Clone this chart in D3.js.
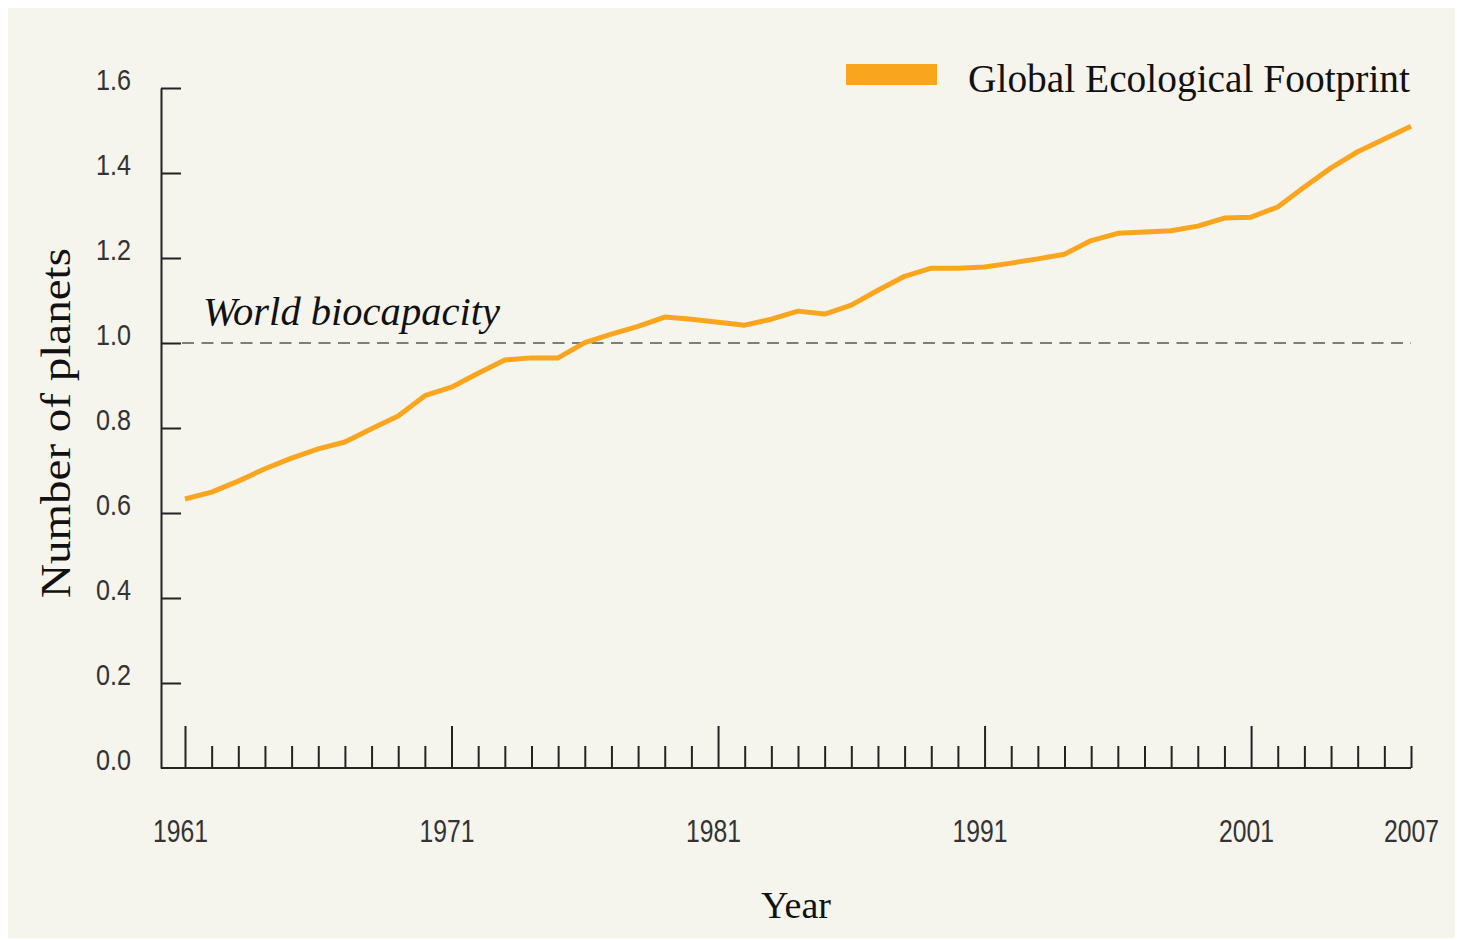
<!DOCTYPE html>
<html>
<head>
<meta charset="utf-8">
<script src="https://cdn.jsdelivr.net/npm/d3@7"></script>
<style>
  body { margin: 0; background: #ffffff; }
  .tick-label { font-family: "Liberation Sans Narrow", "Liberation Sans", Arial, sans-serif; fill: #333; }
  .serif { font-family: "Liberation Serif", "DejaVu Serif", serif; fill: #111; }
</style>
</head>
<body>
<svg></svg>
<script>
/* data: global ecological footprint, number of planets */
var years = [1961, 1962, 1963, 1964, 1965, 1966, 1967, 1968, 1969, 1970,
             1971, 1972, 1973, 1974, 1975, 1976, 1977, 1978, 1979, 1980,
             1981, 1982, 1983, 1984, 1985, 1986, 1987, 1988, 1989, 1990,
             1991, 1992, 1993, 1994, 1995, 1996, 1997, 1998, 1999, 2000,
             2001, 2002, 2003, 2004, 2005, 2006, 2007];
var footprint = [0.633, 0.649, 0.675, 0.704, 0.729, 0.751, 0.767, 0.798, 0.828, 0.876,
                 0.896, 0.929, 0.960, 0.965, 0.965, 1.001, 1.021, 1.039, 1.061, 1.056,
                 1.049, 1.042, 1.056, 1.075, 1.068, 1.089, 1.124, 1.157, 1.176, 1.176,
                 1.179, 1.188, 1.198, 1.209, 1.241, 1.258, 1.261, 1.264, 1.275, 1.294,
                 1.296, 1.320, 1.367, 1.412, 1.450, 1.480, 1.510];
var biocapacity = 1.0;
var yTicks = [0.0, 0.2, 0.4, 0.6, 0.8, 1.0, 1.2, 1.4, 1.6];
var majorYears = [1961, 1971, 1981, 1991, 2001];
var labelYears = [1961, 1971, 1981, 1991, 2001, 2007];
var seriesName = 'Global Ecological Footprint';
var refLabel = 'World biocapacity';
var xTitle = 'Year';
var yTitle = 'Number of planets';

/* svg setting */
var svgWidth = 1457;
var svgHeight = 940;
var axisLeftX = 161;
var orange = '#f9a51e';
var scale = {};

var svg = d3.select('svg')
    .attr('width', svgWidth)
    .attr('height', svgHeight);

svg.append('rect')
    .attr('x', 8).attr('y', 8)
    .attr('width', 1447).attr('height', 930)
    .attr('fill', '#f5f4ed');

setScale();
drawAxis();
drawReference();
drawLine();
drawLegend();

function setScale(){
  scale.x = d3.scaleLinear()
      .domain([1961, 2007])
      .range([185, 1411]);
  scale.y = d3.scaleLinear()
      .domain([0, 1.6])
      .range([768, 88]);
}

function drawAxis(){
  // y axis, ticks pointing inward
  var yAxis = svg.append('g')
      .attr('transform', translate(axisLeftX, 0))
      .call(d3.axisLeft(scale.y)
        .tickValues(yTicks)
        .tickFormat(d3.format('.1f'))
        .tickSizeInner(-20)
        .tickSizeOuter(0)
        .tickPadding(30));
  yAxis.select('.domain').attr('stroke', '#222').attr('stroke-width', 2);
  yAxis.selectAll('.tick line').attr('stroke', '#222').attr('stroke-width', 2);
  yAxis.selectAll('.tick text')
      .attr('class', 'tick-label')
      .attr('font-size', 30)
      .attr('dy', '0.05em')
      .attr('textLength', 35)
      .attr('lengthAdjust', 'spacingAndGlyphs');
  yAxis.selectAll('.tick').filter(function(d){ return d === 0; }).select('line').remove();

  // x axis, every year, decade ticks taller
  var xAxis = svg.append('g')
      .attr('transform', translate(0, scale.y(0)))
      .call(d3.axisBottom(scale.x)
        .tickValues(years)
        .tickFormat(function(d){ return labelYears.indexOf(d) >= 0 ? String(d) : ''; })
        .tickSizeInner(-22)
        .tickSizeOuter(0));
  xAxis.select('.domain').remove();
  xAxis.selectAll('.tick line')
      .attr('stroke', '#222')
      .attr('stroke-width', 2)
      .attr('y2', function(d){ return majorYears.indexOf(d) >= 0 ? -42 : -22; });
  xAxis.selectAll('.tick text')
      .filter(function(d){ return labelYears.indexOf(d) >= 0; })
      .attr('class', 'tick-label')
      .attr('font-size', 32)
      .attr('y', 74)
      .attr('dy', 0)
      .attr('x', function(d){ return d === 2007 ? 0 : -5; })
      .attr('textLength', 55)
      .attr('lengthAdjust', 'spacingAndGlyphs');
  xAxis.append('line')
      .attr('x1', axisLeftX).attr('x2', scale.x(2007))
      .attr('y1', 0).attr('y2', 0)
      .attr('stroke', '#222').attr('stroke-width', 2);

  // titles
  svg.append('text')
      .attr('class', 'serif')
      .attr('x', 796).attr('y', 918)
      .attr('text-anchor', 'middle')
      .attr('font-size', 38)
      .text(xTitle);
  svg.append('text')
      .attr('class', 'serif')
      .attr('transform', translate(70, 423) + ' rotate(-90)')
      .attr('text-anchor', 'middle')
      .attr('font-size', 42)
      .attr('textLength', 350)
      .attr('lengthAdjust', 'spacingAndGlyphs')
      .text(yTitle);
}

function drawReference(){
  svg.append('line')
      .attr('x1', axisLeftX + 21).attr('x2', scale.x(2007))
      .attr('y1', scale.y(biocapacity)).attr('y2', scale.y(biocapacity))
      .attr('stroke', '#555')
      .attr('stroke-width', 1.6)
      .attr('stroke-dasharray', '12,7.5');
  svg.append('text')
      .attr('class', 'serif')
      .attr('x', 203).attr('y', 325)
      .attr('font-style', 'italic')
      .attr('font-size', 40)
      .attr('textLength', 297)
      .attr('lengthAdjust', 'spacingAndGlyphs')
      .text(refLabel);
}

function drawLine(){
  var data = years.map(function(ele, ind){
    return {x: ele, y: footprint[ind]};
  });
  var line = d3.line()
      .x(function(d){ return scale.x(d.x); })
      .y(function(d){ return scale.y(d.y); });
  svg.append('path')
      .datum(data)
      .attr('d', line)
      .attr('fill', 'none')
      .attr('stroke', orange)
      .attr('stroke-width', 5)
      .attr('stroke-linejoin', 'round');
}

function drawLegend(){
  svg.append('rect')
      .attr('x', 846).attr('y', 64)
      .attr('width', 91).attr('height', 21)
      .attr('fill', orange);
  svg.append('text')
      .attr('class', 'serif')
      .attr('x', 968).attr('y', 92)
      .attr('font-size', 39)
      .attr('textLength', 442)
      .attr('lengthAdjust', 'spacingAndGlyphs')
      .text(seriesName);
}

function translate(x, y) {
  return 'translate(' + x + ',' + y + ')';
}
</script>
</body>
</html>
